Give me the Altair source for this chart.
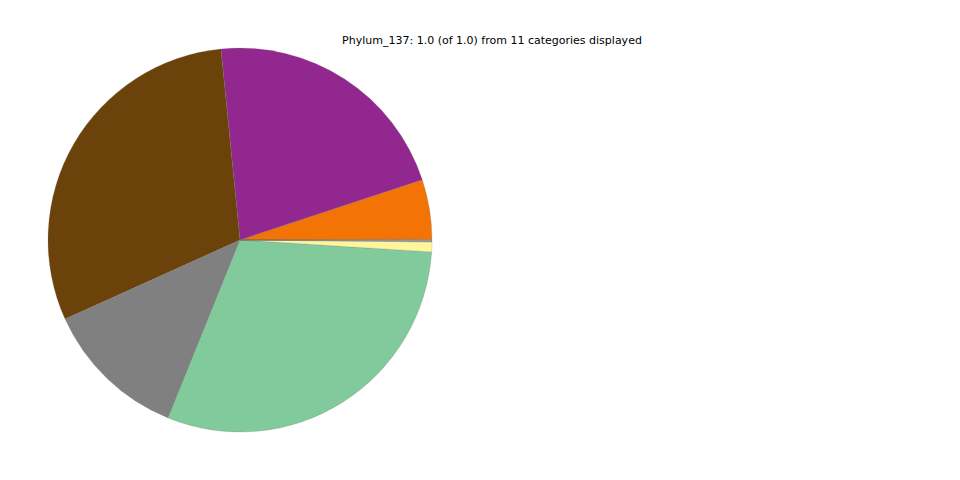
import math
import altair as alt
import pandas as pd

categories = ["c01", "c02", "c03", "c04", "c05", "c06", "c07", "c08", "c09", "c10", "c11"]
values = [0.0005, 0.0503, 0.2150, 0.3018, 0.1213, 0.3012, 0.0083, 0.0008, 0.0004, 0.0002, 0.0002]
colors = ["#9fb6cc", "#f37404", "#92278f", "#6b430a", "#808080", "#80ca9b", "#fff59c",
          "#a0a0a0", "#c6b3d6", "#e0e0e0", "#b0b0b0"]
title_text = "Phylum_137: 1.0 (of 1.0) from 11 categories displayed"

df = pd.DataFrame({"category": categories, "value": values, "idx": list(range(len(categories)))})

pie = alt.Chart(df).mark_arc(outerRadius=192, stroke="#707070", strokeWidth=0.3, strokeOpacity=0.7).encode(
    theta=alt.Theta("value:Q", stack=True,
                    scale=alt.Scale(range=[math.pi / 2, math.pi / 2 - 2 * math.pi])),
    color=alt.Color("category:N", scale=alt.Scale(domain=categories, range=colors), legend=None),
    order=alt.Order("idx:Q"),
    x=alt.value(232),
    y=alt.value(232),
)

tdf = pd.DataFrame({"t": [title_text]})
title = alt.Chart(tdf).mark_text(font="DejaVu Sans", fontSize=11, color="#000000",
                                 align="center", baseline="middle").encode(
    text="t:N",
    x=alt.value(484),
    y=alt.value(32.5),
)

chart = alt.layer(pie, title).properties(
    width=944, height=464,
    autosize=alt.AutoSizeParams(type="none"),
    padding=0,
).configure_view(strokeWidth=0)

chart.save("out.html", embed_options={"renderer": "svg", "actions": False})
